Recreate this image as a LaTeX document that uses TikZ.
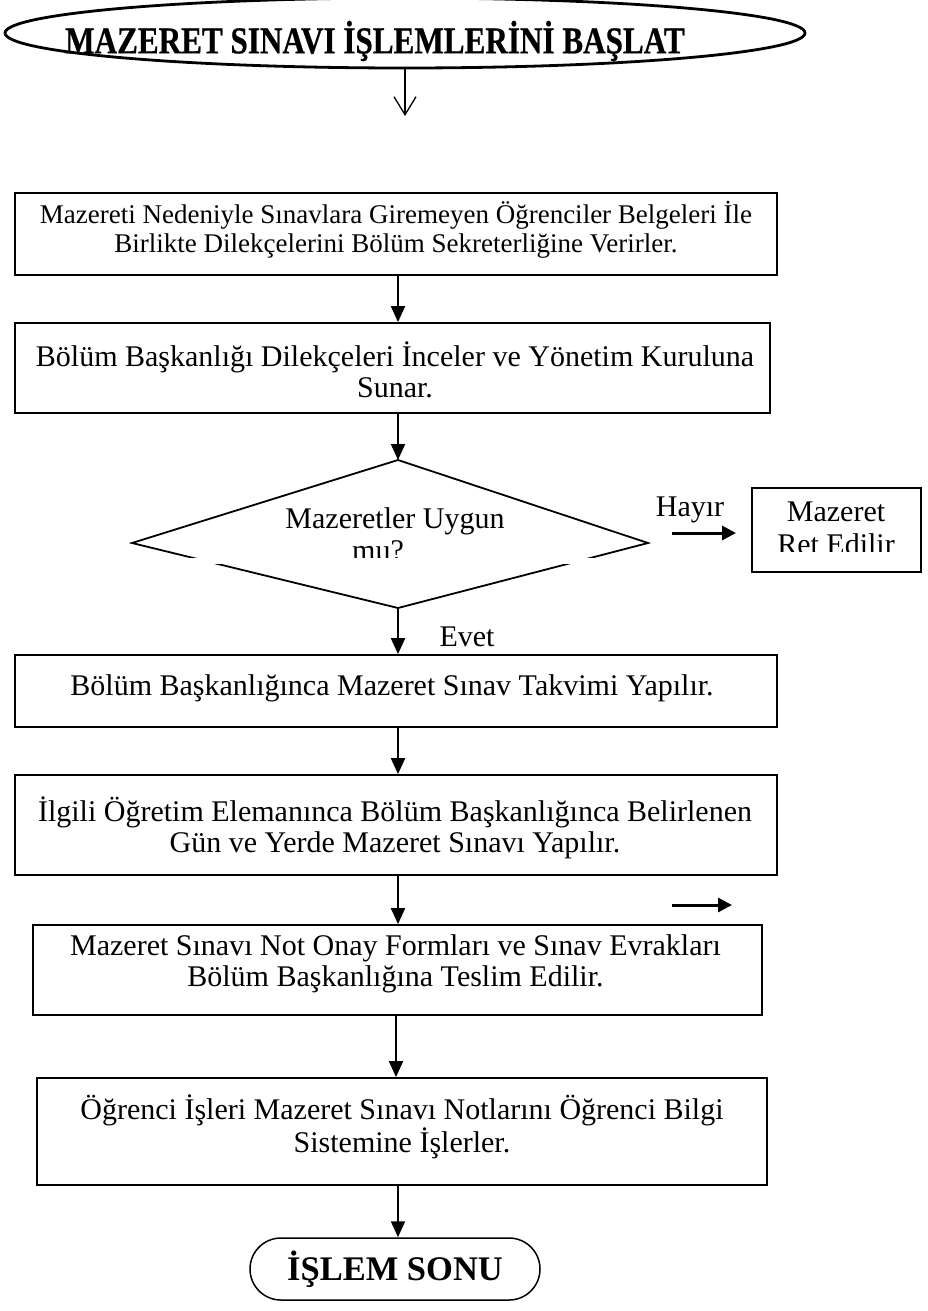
\documentclass[tikz,border=0pt]{standalone}
\usepackage{fontspec}
\setmainfont{Liberation Serif}
\newfontfamily\titlefont[FakeStretch=0.82,FakeBold=0.6]{Liberation Serif}
\usetikzlibrary{arrows.meta,shapes.geometric}
\begin{document}
\begin{tikzpicture}[x=1pt,y=-1pt,
  stepbox/.style={draw, line width=1.8pt, rectangle, inner sep=0pt},
  lbl/.style={inner sep=0pt, align=center, font=\fontsize{30}{31}\selectfont},
  small/.style={inner sep=0pt, align=center, font=\fontsize{27}{29}\selectfont},
  flow/.style={line width=2pt, -{Triangle[length=16pt,width=14pt]}},
  side/.style={line width=3pt, -{Triangle[length=14pt,width=14pt]}}]
\useasboundingbox (0,0) rectangle (928,1311);

% start terminal
\node[draw, ellipse, line width=2.8pt, minimum width=800pt, minimum height=70pt, inner sep=0pt]
  (start) at (405,33) {};
\node[inner sep=0pt, font=\titlefont\bfseries\fontsize{38}{40}\selectfont]
  (title) at (375,41) {MAZERET SINAVI İŞLEMLERİNİ BAŞLAT};
\coordinate (startend) at (405,116);
\draw[line width=1.3pt, -{Straight Barb[length=18pt,width=22pt]}] (start.south) -- (startend);

% process boxes
\node[stepbox, minimum width=762pt, minimum height=82pt] (b1) at (396,234) {};
\node[small] (t1) at (396,229.5)
  {Mazereti Nedeniyle Sınavlara Giremeyen Öğrenciler Belgeleri İle\\Birlikte Dilekçelerini Bölüm Sekreterliğine Verirler.};
\node[stepbox, minimum width=755pt, minimum height=90pt] (b2) at (392.5,368) {};
\node[lbl] (t2) at (395,369.5)
  {Bölüm Başkanlığı Dilekçeleri İnceler ve Yönetim Kuruluna\\Sunar.};

% decision
\coordinate (dtop) at (398,460);
\coordinate (dright) at (648,543);
\coordinate (dbot) at (398,608);
\coordinate (dleft) at (132,543);
\draw[line width=1.8pt, line join=miter] (dtop) -- (dright) -- (dbot) -- (dleft) -- cycle;
\node[lbl] (q1) at (395,521) {Mazeretler Uygun};
\node[lbl] (q2) at (378,551) {mu?};

\node[lbl] (hayir) at (690,510) {Hayır};
\coordinate (h1) at (672,533);
\coordinate (h2) at (736,533);
\draw[side] (h1) -- (h2);
\node[stepbox, minimum width=169pt, minimum height=84pt] (ret) at (836.5,530) {};
\node[inner sep=0pt, align=center, font=\fontsize{30}{33}\selectfont] (t7) at (836,528.5) {Mazeret\\Ret Edilir};

% the text frames of the decision hide a thin strip below their last line
\fill[white] (185,558) rectangle (600,564);
\fill[white] (760,552) rectangle (914,562);

\node[lbl] (evet) at (467,637) {Evet};

\node[stepbox, minimum width=762pt, minimum height=72pt] (b3) at (396,691) {};
\node[lbl] (t3) at (392,688) {Bölüm Başkanlığınca Mazeret Sınav Takvimi Yapılır.};
\node[stepbox, minimum width=762pt, minimum height=100pt] (b4) at (396,825) {};
\node[lbl] (t4) at (395,827.5)
  {İlgili Öğretim Elemanınca Bölüm Başkanlığınca Belirlenen\\Gün ve Yerde Mazeret Sınavı Yapılır.};
\coordinate (s1) at (672,905);
\coordinate (s2) at (732,905);
\draw[side] (s1) -- (s2);
\node[stepbox, minimum width=729pt, minimum height=90pt] (b5) at (397.5,970) {};
\node[lbl] (t5) at (395.5,963.5)
  {Mazeret Sınavı Not Onay Formları ve Sınav Evrakları\\Bölüm Başkanlığına Teslim Edilir.};
\node[stepbox, minimum width=730pt, minimum height=107pt] (b6) at (402,1131.5) {};
\node[inner sep=0pt, align=center, font=\fontsize{30}{33}\selectfont] (t6) at (402,1126.5)
  {Öğrenci İşleri Mazeret Sınavı Notlarını Öğrenci Bilgi\\Sistemine İşlerler.};

% end terminal
\node[draw, line width=1.5pt, rounded corners=31pt, minimum width=290pt, minimum height=62pt,
  inner sep=0pt, font=\bfseries\fontsize{34.5}{36}\selectfont] (end) at (395,1269) {İŞLEM SONU};

% connectors
\draw[flow] (b1.south -| dtop) -- (b2.north -| dtop);
\draw[flow] (b2.south -| dtop) -- (dtop);
\draw[flow] (dbot) -- (b3.north -| dtop);
\draw[flow] (b3.south -| dtop) -- (b4.north -| dtop);
\draw[flow] (b4.south -| dtop) -- (b5.north -| dtop);
\draw[flow] ([xshift=-2pt]b5.south -| dtop) -- ([xshift=-2pt]b6.north -| dtop);
\draw[flow] (b6.south -| dtop) -- (end.north -| dtop);
\end{tikzpicture}
\end{document}
